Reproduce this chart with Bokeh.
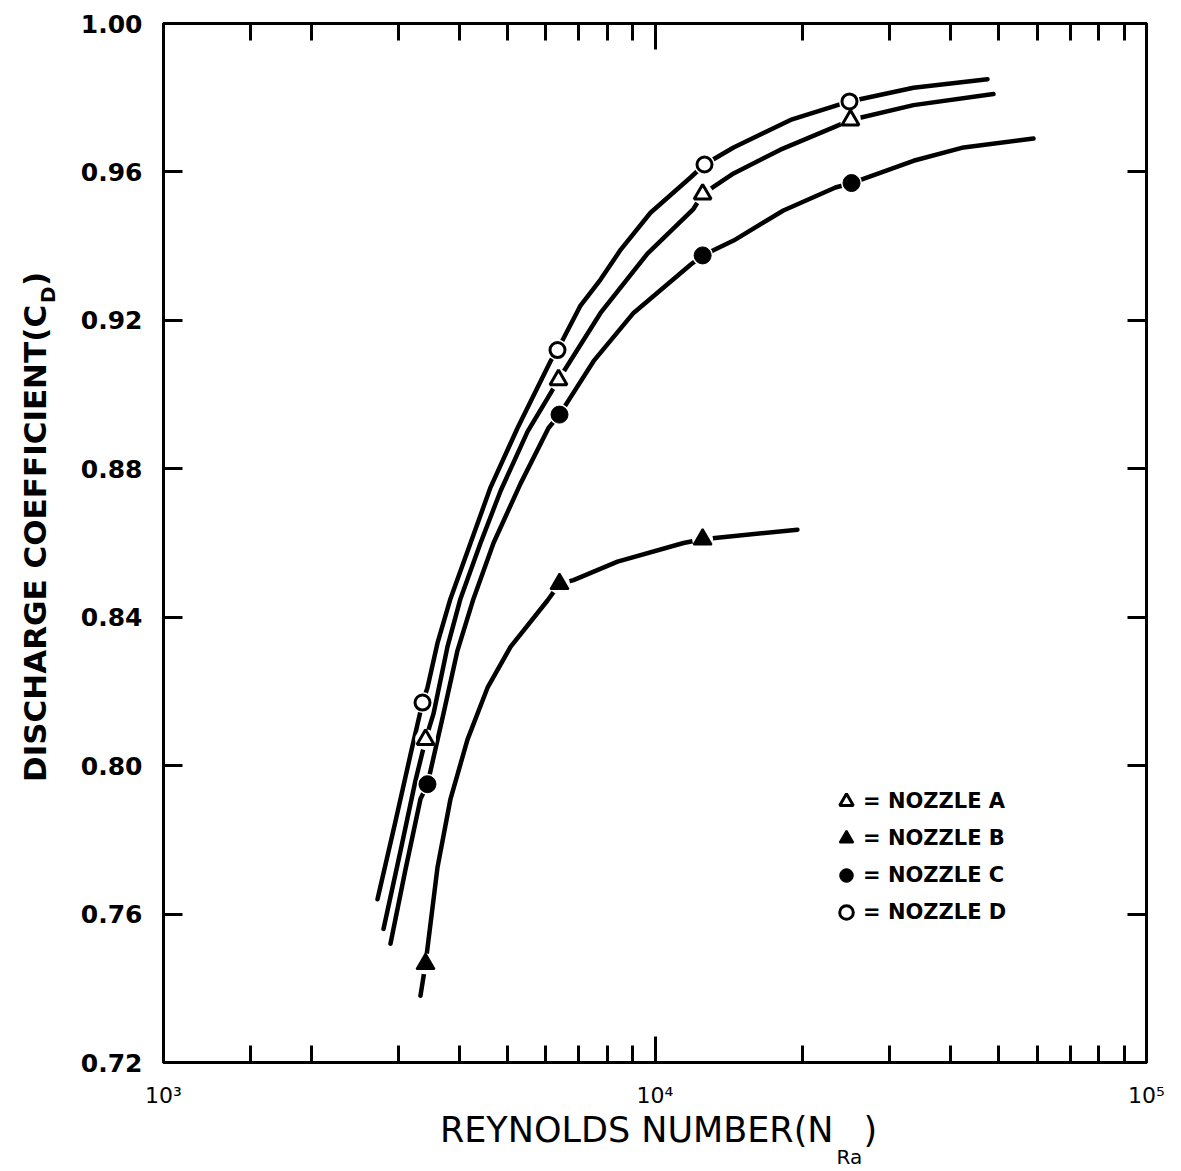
import math
from bokeh.plotting import figure
from bokeh.layouts import column, row
from bokeh.models import (Range1d, FixedTicker, LogAxis, LinearAxis, NumeralTickFormatter,
                          CustomJSTickFormatter, Legend, LegendItem)
from bokeh.core.properties import value
from bokeh.embed import file_html
from bokeh.resources import INLINE

# ---------------- data ----------------
# Measured points (Reynolds number, discharge coefficient)
re_a = [3413, 6363, 12500, 24990]
cd_a = [0.807, 0.904, 0.954, 0.974]
re_b = [3413, 6393, 12500]
cd_b = [0.7466, 0.849, 0.861]
re_c = [3444, 6393, 12500, 25110]
cd_c = [0.795, 0.8946, 0.9375, 0.957]
re_d = [3365, 6333, 12610, 24870]
cd_d = [0.817, 0.912, 0.962, 0.979]

# Hand-drawn fitted curves
curve_re_a = [2803, 3035, 3256, 3413, 3543, 3782, 4020, 4416, 4850, 5504, 6043, 6363,
              7748, 9654, 11970, 12500, 14450, 18000, 23080, 24990, 33570, 48830]
curve_cd_a = [0.756, 0.777, 0.796, 0.807, 0.814, 0.832, 0.845, 0.860, 0.874, 0.890, 0.899, 0.904,
              0.922, 0.938, 0.950, 0.954, 0.9596, 0.966, 0.972, 0.974, 0.978, 0.981]
curve_re_b = [3333, 3413, 3609, 3836, 4154, 4563, 5082, 6043, 6393, 6826, 8391, 11430, 12500, 19490]
curve_cd_b = [0.738, 0.7466, 0.7725, 0.791, 0.807, 0.821, 0.832, 0.8445, 0.849, 0.850, 0.855,
              0.860, 0.861, 0.8636]
curve_re_c = [2896, 3107, 3333, 3444, 3712, 3964, 4273, 4693, 5326, 6072, 6393, 7498, 9044,
              11810, 12500, 14450, 18250, 23290, 25110, 33570, 42450, 58900]
curve_cd_c = [0.752, 0.772, 0.791, 0.795, 0.814, 0.831, 0.845, 0.860, 0.876, 0.891, 0.8946, 0.909,
              0.922, 0.935, 0.9375, 0.9415, 0.9496, 0.9558, 0.957, 0.963, 0.9666, 0.969]
curve_re_d = [2725, 2965, 3181, 3365, 3444, 3609, 3836, 4214, 4628, 5252, 6129, 6333, 7054, 7748,
              8510, 9790, 11810, 12610, 14450, 18870, 24870, 33570, 47480]
curve_cd_d = [0.764, 0.785, 0.803, 0.817, 0.821, 0.833, 0.845, 0.860, 0.875, 0.891, 0.909, 0.912,
              0.924, 0.931, 0.939, 0.949, 0.9585, 0.962, 0.9666, 0.974, 0.979, 0.9827, 0.985]

legend_labels = ["= NOZZLE A", "= NOZZLE B", "= NOZZLE C", "= NOZZLE D"]

y_ticks = [0.72, 0.76, 0.80, 0.84, 0.88, 0.92, 0.96, 1.00]
x_major_ticks = [1000, 10000, 100000]
x_minor_ticks = [1500, 2000, 3000, 4000, 5000, 6000, 7000, 8000, 9000,
                 20000, 30000, 40000, 50000, 60000, 70000, 80000, 90000]
x_tick_labels = {1000: "10³", 10000: "10⁴", 100000: "10⁵"}

x_label_main = "REYNOLDS NUMBER(N"
x_label_sub = "Ra"
y_label_main = "DISCHARGE COEFFICIENT(C"
y_label_sub = "D"

# ---------------- main figure ----------------
p = figure(width=1121, height=1111, x_axis_type="log", title=None,
           x_range=Range1d(1000, 100000), y_range=Range1d(0.72, 1.00),
           output_backend="svg", toolbar_location=None,
           min_border_left=103, min_border_right=35, min_border_top=23, min_border_bottom=49)
p.xgrid.visible = False
p.ygrid.visible = False
p.outline_line_color = "black"
p.outline_line_width = 3
p.background_fill_color = "white"
p.border_fill_color = "white"

def style_axis(ax, major_in, minor_in):
    ax.axis_line_width = 3
    ax.axis_line_color = "black"
    ax.major_tick_line_width = 3
    ax.minor_tick_line_width = 3
    ax.major_tick_line_color = "black"
    ax.minor_tick_line_color = "black"
    ax.major_tick_in = major_in
    ax.major_tick_out = 0
    ax.minor_tick_in = minor_in
    ax.minor_tick_out = 0

xticker = FixedTicker(ticks=x_major_ticks, minor_ticks=x_minor_ticks)
yticker = FixedTicker(ticks=y_ticks, minor_ticks=[])

xa = p.xaxis[0]
xa.ticker = xticker
xa.major_label_overrides = x_tick_labels
xa.major_label_text_font = "DejaVu Sans"
xa.major_label_text_font_size = "22px"
xa.major_label_text_color = "black"
xa.major_label_standoff = 20
style_axis(xa, 26, 17)

ya = p.yaxis[0]
ya.ticker = yticker
ya.formatter = NumeralTickFormatter(format="0.00")
ya.major_label_text_font = "DejaVu Sans"
ya.major_label_text_font_style = "bold"
ya.major_label_text_font_size = "25px"
ya.major_label_text_color = "black"
ya.major_label_standoff = 21
style_axis(ya, 19, 0)

blank = CustomJSTickFormatter(code="return ''")
top = LogAxis(ticker=xticker, formatter=blank, major_label_text_font_size="1px")
style_axis(top, 26, 17)
p.add_layout(top, "above")
right = LinearAxis(ticker=yticker, formatter=blank, major_label_text_font_size="1px")
style_axis(right, 19, 0)
p.add_layout(right, "right")

# ---------------- curves ----------------
for cx, cy in [(curve_re_a, curve_cd_a), (curve_re_b, curve_cd_b),
               (curve_re_c, curve_cd_c), (curve_re_d, curve_cd_d)]:
    p.line(cx, cy, line_color="black", line_width=4.5, line_cap="round", line_join="round")

# white halos that break the curves around each marker
for mx, my in [(re_a, cd_a), (re_b, cd_b), (re_c, cd_c), (re_d, cd_d)]:
    p.scatter(mx, my, marker="circle", size=21, fill_color="white", line_color=None)

ra = p.scatter(re_a, cd_a, marker="triangle", size=17, fill_color="white",
               line_color="black", line_width=3)
rb = p.scatter(re_b, cd_b, marker="triangle", size=18, fill_color="black",
               line_color="black", line_width=2)
rc = p.scatter(re_c, cd_c, marker="circle", size=17, fill_color="black",
               line_color="black", line_width=1)
rd = p.scatter(re_d, cd_d, marker="circle", size=15, fill_color="white",
               line_color="black", line_width=3)

legend = Legend(items=[LegendItem(label=legend_labels[0], renderers=[ra]),
                       LegendItem(label=legend_labels[1], renderers=[rb]),
                       LegendItem(label=legend_labels[2], renderers=[rc]),
                       LegendItem(label=legend_labels[3], renderers=[rd])],
                location=(666, 133), padding=0, margin=0, spacing=3,
                glyph_width=34, glyph_height=34, label_height=34, label_standoff=0,
                border_line_color=None, background_fill_alpha=0,
                label_text_font="DejaVu Sans", label_text_font_style="bold",
                label_text_font_size="21px", label_text_color="black")
p.add_layout(legend, "center")

# ---------------- axis titles (separate strips so subscripts can be placed) ----------------
def strip(w, h):
    f = figure(width=w, height=h, x_range=Range1d(0, w), y_range=Range1d(0, h), title=None,
               output_backend="svg", toolbar_location=None, min_border=0,
               x_axis_location=None, y_axis_location=None)
    f.xgrid.visible = False
    f.ygrid.visible = False
    f.outline_line_color = None
    f.background_fill_color = "white"
    f.border_fill_color = "white"
    return f

# left strip: 60 px wide, same height as main figure (rotated text, centre-anchored)
ys = strip(60, 1111)
ys.text(x=[34], y=[555], text=[y_label_main], angle=math.pi / 2,
        text_align="center", text_baseline="middle",
        text_font=value("DejaVu Sans"), text_font_style="bold",
        text_font_size="31px", text_color="black")
ys.text(x=[47], y=[821], text=[y_label_sub], angle=math.pi / 2,
        text_align="center", text_baseline="middle",
        text_font=value("DejaVu Sans"), text_font_style="bold",
        text_font_size="20px", text_color="black")
ys.text(x=[34], y=[838], text=[")"], angle=math.pi / 2,
        text_align="center", text_baseline="middle",
        text_font=value("DejaVu Sans"), text_font_style="bold",
        text_font_size="31px", text_color="black")

# bottom strip: full width, 60 px high
xs = strip(1181, 60)
xs.text(x=[833], y=[42], text=[x_label_main], text_align="right", text_baseline="alphabetic",
        text_font=value("DejaVu Sans"), text_font_size="35px", text_color="black")
xs.text(x=[836], y=[15], text=[x_label_sub], text_align="left", text_baseline="alphabetic",
        text_font=value("DejaVu Sans"), text_font_size="20px", text_color="black")
xs.text(x=[863], y=[42], text=[")"], text_align="left", text_baseline="alphabetic",
        text_font=value("DejaVu Sans"), text_font_size="35px", text_color="black")

layout = column(row(ys, p, spacing=0), xs, spacing=0)
open("out.html", "w").write(file_html(layout, INLINE))
